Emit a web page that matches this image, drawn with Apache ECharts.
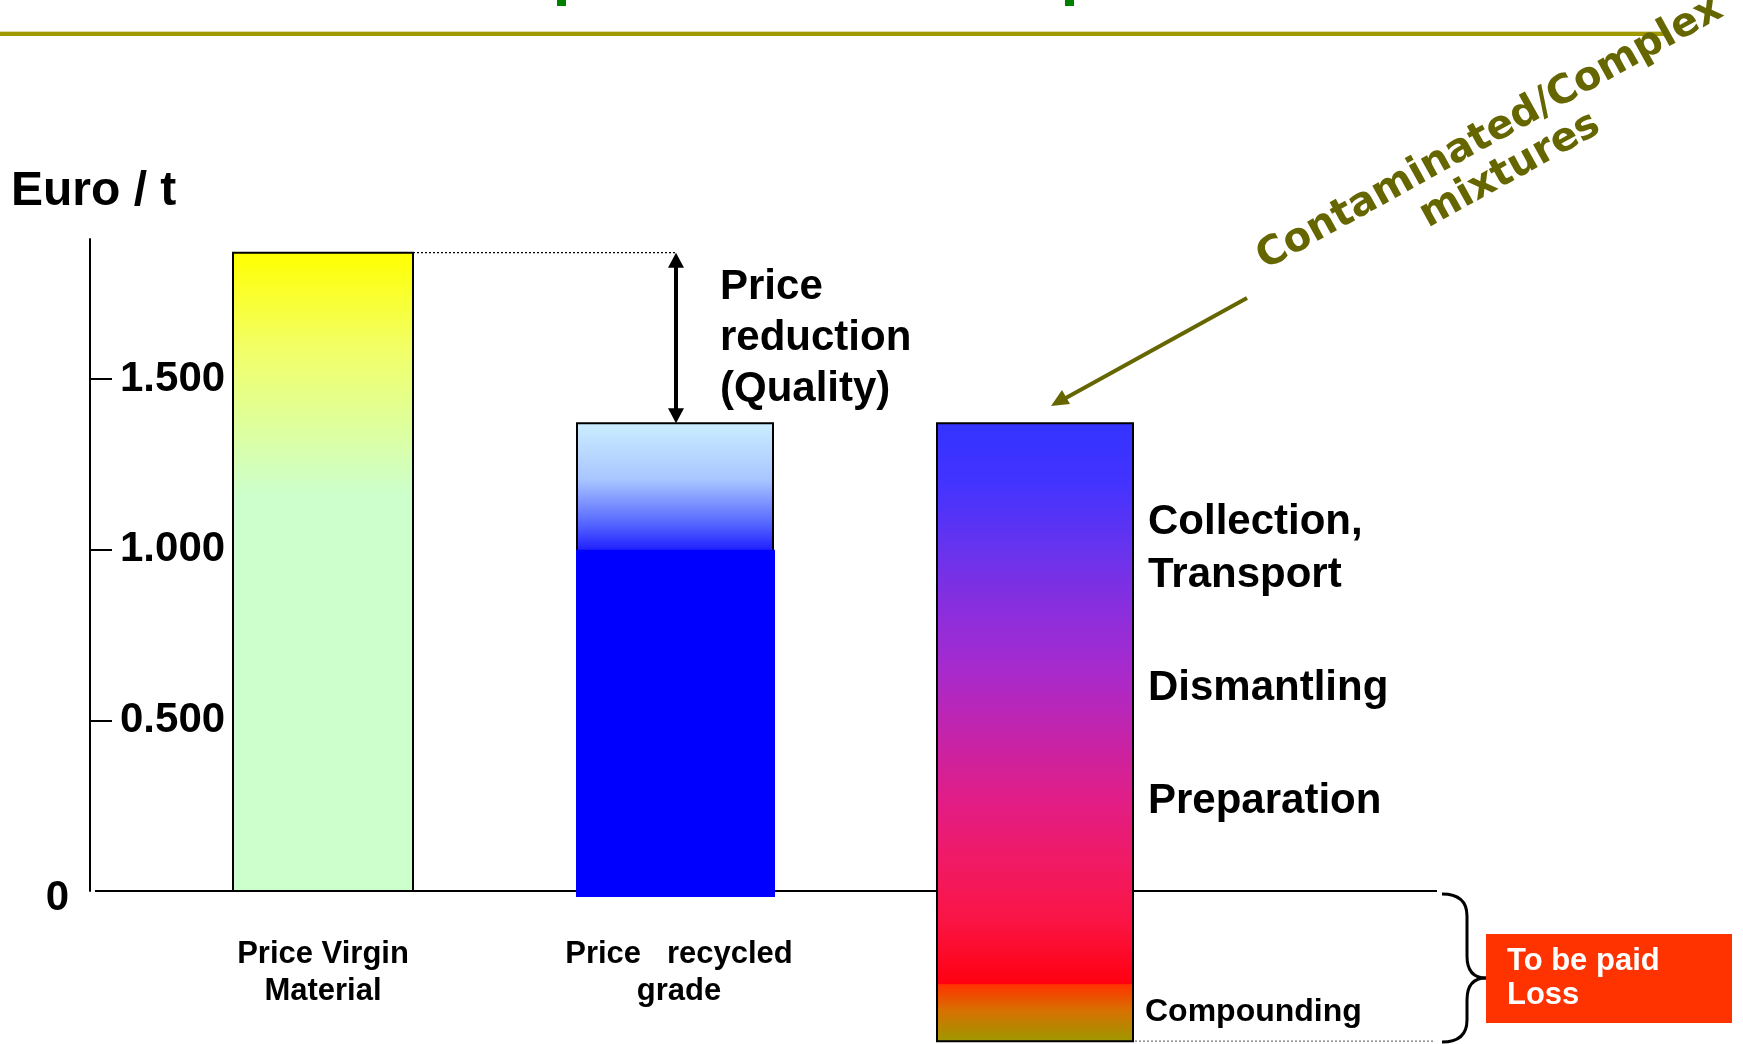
<!DOCTYPE html>
<html>
<head>
<meta charset="utf-8">
<script src="https://cdn.jsdelivr.net/npm/echarts@6/dist/echarts.min.js"></script>
<style>
  html, body { margin: 0; padding: 0; background: #ffffff; }
  #chart { width: 1743px; height: 1044px; }
</style>
</head>
<body>
<div id="chart"></div>
<script>
// Price of a tonne of plastic: virgin material, recycled grade and the cost
// chain of processing contaminated / complex mixtures (Euro / t).
const categories = ['Price Virgin\nMaterial', 'Price   recycled\ngrade', ''];
const barTop = [1870, 1370, 1370];
const barBottom = [0, 0, -440];
const recycledSolidValue = 1000;   // full-value share of the recycled grade
const compoundingFrom = -270;      // compounding share at the foot of the processing column
const tickValues = [500, 1000, 1500];
const zeroTick = [0];
const axisMax = 1910;

const FONT = '"Liberation Sans", Arial, Helvetica, sans-serif';
const BAR_W = [180, 196, 196];
const BAR_DX = [0, -4, 0];

function fmtEuro(v) {
  if (v === 0) return '0';
  const th = Math.floor(v / 1000);
  const rest = String(v % 1000).padStart(3, '0');
  return th + '.' + rest;
}

function vGradient(stops) {
  return { type: 'linear', x: 0, y: 0, x2: 0, y2: 1, colorStops: stops, global: false };
}

function renderZeroLine(params, api) {
  const cs = params.coordSys;
  const y = api.coord([0, 0])[1];
  return {
    type: 'line',
    shape: { x1: cs.x - 50, y1: y, x2: cs.x + cs.width + 224, y2: y },
    style: { stroke: '#000', lineWidth: 2 }
  };
}

function renderBar(params, api) {
  const i = api.value(0);
  const top = api.coord([i, api.value(2)]);
  const cx = top[0] + BAR_DX[i];
  const yTop = top[1];
  const yBot = api.coord([i, api.value(1)])[1];
  const w = BAR_W[i];
  const x0 = cx - w / 2;
  const h = yBot - yTop;
  const children = [];

  if (i === 0) {
    children.push({
      type: 'rect',
      shape: { x: x0, y: yTop, width: w, height: h },
      style: {
        fill: vGradient([
          { offset: 0, color: '#FFFF00' },
          { offset: 0.15, color: '#F2FF66' },
          { offset: 0.38, color: '#CCFFCC' },
          { offset: 1, color: '#CCFFCC' }
        ]),
        stroke: '#000', lineWidth: 2
      }
    });
  } else if (i === 1) {
    const ySolid = api.coord([i, recycledSolidValue])[1];
    const f = (ySolid - yTop) / h;
    children.push({
      type: 'rect',
      shape: { x: x0, y: yTop, width: w, height: h },
      style: {
        fill: vGradient([
          { offset: 0, color: '#CCEEFF' },
          { offset: f * 0.45, color: '#A8C6FF' },
          { offset: f * 0.8, color: '#5566FF' },
          { offset: f, color: '#2222FF' },
          { offset: 1, color: '#0000FF' }
        ]),
        stroke: '#000', lineWidth: 2
      }
    });
    children.push({
      type: 'rect',
      shape: { x: x0 - 1, y: ySolid, width: w + 3, height: yBot - ySolid + 6 },
      style: { fill: '#0000FF' }
    });
    // gap to the virgin price: dotted guide and double arrow
    const v = api.coord([0, barTop[0]]);
    const yV = v[1];
    const vRight = v[0] + BAR_DX[0] + BAR_W[0] / 2;
    const ax = cx + 1, head = 15, hw = 8;
    children.push({
      type: 'line',
      shape: { x1: vRight, y1: yV, x2: ax, y2: yV },
      style: { stroke: '#000', lineWidth: 1.2, lineDash: [2, 2] }
    });
    children.push({
      type: 'line',
      shape: { x1: ax, y1: yV + head - 2, x2: ax, y2: yTop - head + 2 },
      style: { stroke: '#000', lineWidth: 4 }
    });
    children.push({
      type: 'polygon',
      shape: { points: [[ax, yV], [ax - hw, yV + head], [ax + hw, yV + head]] },
      style: { fill: '#000' }
    });
    children.push({
      type: 'polygon',
      shape: { points: [[ax, yTop], [ax - hw, yTop - head], [ax + hw, yTop - head]] },
      style: { fill: '#000' }
    });
    children.push({
      type: 'text',
      x: ax + 44,
      y: (yV + yTop) / 2,
      style: {
        text: 'Price\nreduction\n(Quality)',
        font: 'bold 42px ' + FONT,
        fill: '#000', align: 'left', verticalAlign: 'middle', lineHeight: 51
      }
    });
  } else {
    const yComp = api.coord([i, compoundingFrom])[1];
    const fb = (yComp - yTop) / h;
    const upper = ['#3333FF', '#4433FF', '#6633EE', '#8A2EDD', '#A82ACC',
                   '#C424AA', '#E01E88', '#F01A66', '#FA1444', '#FF0010'];
    const stops = upper.map((c, k) => ({ offset: fb * k / (upper.length - 1), color: c }));
    stops.push({ offset: fb + 0.001, color: '#FF3300' });
    stops.push({ offset: fb + (1 - fb) * 0.45, color: '#D87000' });
    stops.push({ offset: 1, color: '#9C9900' });
    children.push({
      type: 'rect',
      shape: { x: x0, y: yTop, width: w, height: h },
      style: { fill: vGradient(stops), stroke: '#000', lineWidth: 2 }
    });
    // dotted floor of the loss
    children.push({
      type: 'line',
      shape: { x1: x0 + w + 2, y1: yBot, x2: params.coordSys.x + params.coordSys.width + 222, y2: yBot },
      style: { stroke: '#777', lineWidth: 1.2, lineDash: [2, 2] }
    });
  }
  return { type: 'group', children };
}

const chart = echarts.init(document.getElementById('chart'), null, { renderer: 'canvas' });

const stageFont = 'bold 42px ' + FONT;
const braceStyle = { stroke: '#000', lineWidth: 3, fill: null };

chart.setOption({
  animation: false,
  backgroundColor: '#ffffff',
  grid: { left: 145, right: 530, top: 239, bottom: 153 },
  xAxis: {
    type: 'category',
    data: categories,
    axisLine: { show: false },
    axisTick: { show: false },
    splitLine: { show: false },
    axisLabel: {
      interval: 0, margin: 45, color: '#000',
      fontSize: 31, fontWeight: 'bold', fontFamily: FONT, lineHeight: 37
    }
  },
  yAxis: [{
    type: 'value', min: 0, max: axisMax, offset: 55, position: 'left',
    axisLine: { show: true, lineStyle: { color: '#000', width: 2 } },
    axisTick: { show: true, inside: true, length: 22, customValues: tickValues, lineStyle: { color: '#000', width: 2 } },
    axisLabel: {
      inside: true, margin: 30, customValues: tickValues, formatter: fmtEuro,
      color: '#000', fontSize: 42, fontWeight: 'bold', fontFamily: FONT
    },
    splitLine: { show: false }
  }, {
    type: 'value', min: 0, max: axisMax, offset: 55, position: 'left',
    axisLine: { show: false }, axisTick: { show: false }, splitLine: { show: false },
    axisLabel: {
      margin: 21, customValues: zeroTick, formatter: fmtEuro,
      color: '#000', fontSize: 42, fontWeight: 'bold', fontFamily: FONT,
      verticalAlign: 'top', lineHeight: 14
    }
  }],
  series: [{
    type: 'custom',
    name: 'zero',
    z: 1,
    clip: false,
    silent: true,
    renderItem: renderZeroLine,
    data: [[0, 0]],
    encode: { x: 0, y: 1 }
  }, {
    type: 'custom',
    name: 'Euro / t',
    z: 2,
    clip: false,
    renderItem: renderBar,
    data: categories.map((c, i) => [i, barBottom[i], barTop[i]]),
    encode: { x: 0, y: [1, 2] }
  }],
  graphic: [
    // slide header rule and the tail of the header text
    { type: 'rect', shape: { x: 0, y: 31, width: 1665, height: 1 }, style: { fill: '#DCD9A8' }, silent: true },
    { type: 'rect', shape: { x: 0, y: 32, width: 1665, height: 4 }, style: { fill: '#A09A00' }, silent: true },
    { type: 'rect', shape: { x: 557, y: 0, width: 9, height: 6 }, style: { fill: '#008000' }, silent: true },
    { type: 'rect', shape: { x: 1065, y: 0, width: 9, height: 6 }, style: { fill: '#008000' }, silent: true },
    // axis unit
    { type: 'text', x: 11, y: 192, style: { text: 'Euro / t', font: 'bold 48px ' + FONT, fill: '#000', align: 'left', verticalAlign: 'middle' } },
    // processing stages
    { type: 'text', x: 1148, y: 549, style: { text: 'Collection,\nTransport', font: stageFont, fill: '#000', align: 'left', verticalAlign: 'middle', lineHeight: 53 } },
    { type: 'text', x: 1148, y: 688, style: { text: 'Dismantling', font: stageFont, fill: '#000', align: 'left', verticalAlign: 'middle' } },
    { type: 'text', x: 1148, y: 801, style: { text: 'Preparation', font: stageFont, fill: '#000', align: 'left', verticalAlign: 'middle' } },
    { type: 'text', x: 1145, y: 1012, style: { text: 'Compounding', font: 'bold 32px ' + FONT, fill: '#000', align: 'left', verticalAlign: 'middle' } },
    // annotation for mixed input
    { type: 'line', shape: { x1: 1247, y1: 298, x2: 1064, y2: 399 }, style: { stroke: '#666600', lineWidth: 4 } },
    { type: 'polygon', shape: { points: [[1051, 406], [1070, 404], [1062, 390]] }, style: { fill: '#666600' } },
    {
      type: 'text', x: 1500, y: 152, rotation: 29 * Math.PI / 180,
      style: {
        text: 'Contaminated/Complex\nmixtures',
        font: 'bold 40px "DejaVu Sans", Verdana, sans-serif',
        fill: '#666600', align: 'center', verticalAlign: 'middle', lineHeight: 42
      }
    },
    // brace grouping the costs below zero
    { type: 'bezierCurve', shape: { x1: 1442, y1: 894, cpx1: 1467, cpy1: 894, x2: 1467, y2: 916 }, style: braceStyle },
    { type: 'line', shape: { x1: 1467, y1: 916, x2: 1467, y2: 956 }, style: braceStyle },
    { type: 'bezierCurve', shape: { x1: 1467, y1: 956, cpx1: 1467, cpy1: 978, x2: 1486, y2: 978 }, style: braceStyle },
    { type: 'bezierCurve', shape: { x1: 1486, y1: 978, cpx1: 1467, cpy1: 978, x2: 1467, y2: 1000 }, style: braceStyle },
    { type: 'line', shape: { x1: 1467, y1: 1000, x2: 1467, y2: 1020 }, style: braceStyle },
    { type: 'bezierCurve', shape: { x1: 1467, y1: 1020, cpx1: 1467, cpy1: 1042, x2: 1442, y2: 1042 }, style: braceStyle },
    // loss box
    { type: 'rect', shape: { x: 1486, y: 934, width: 246, height: 89 }, style: { fill: '#FF3300' } },
    { type: 'text', x: 1507, y: 978, style: { text: 'To be paid\nLoss', font: 'bold 31px ' + FONT, fill: '#FFFFFF', align: 'left', verticalAlign: 'middle', lineHeight: 34 } }
  ]
});
</script>
</body>
</html>
